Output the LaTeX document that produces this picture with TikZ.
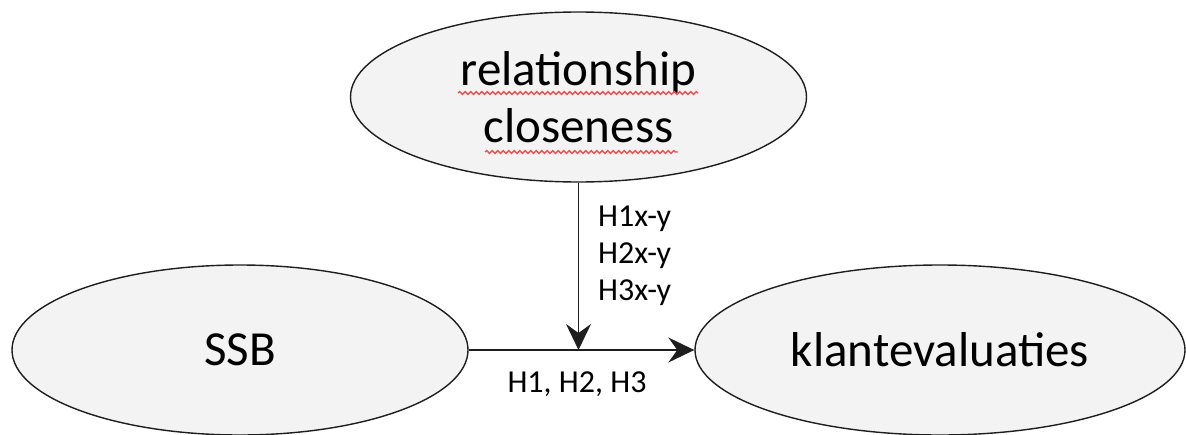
\documentclass[tikz,border=0pt]{standalone}
\usepackage{fontspec}
\setmainfont{Carlito}
\usetikzlibrary{shapes.geometric,arrows.meta,decorations.pathmorphing}
\definecolor{ellfill}{HTML}{F3F3F3}
\definecolor{edge}{HTML}{1E1E1E}
\definecolor{spellred}{HTML}{F05050}
\tikzset{
  construct/.style={ellipse, draw=edge, line width=1.4pt, fill=ellfill, inner sep=0pt,
    minimum height=170pt, font=\fontsize{49}{57}\selectfont, align=center, text=black},
  arr/.style={draw=edge, line width=1.4pt, -{Stealth[length=26pt,width=25pt,inset=9pt]}},
  hyplabel/.style={font=\fontsize{32}{37}\selectfont, align=left, inner sep=0pt, text=black},
  spell/.style={draw=spellred, line width=1.3pt, decorate,
    decoration={snake, amplitude=1.4pt, segment length=5.5pt}}
}
\begin{document}
\begin{tikzpicture}[x=1pt,y=-1pt]
  \useasboundingbox (0,0) rectangle (1186,434);
  \node[construct, minimum width=456pt] (rc) at (578.5,97) {relationship\\closeness};
  \node[construct, minimum width=456pt] (ssb) at (240,350) {SSB};
  \node[construct, minimum width=490pt] (kl) at (940,350) {klantevaluaties};
  \coordinate (m) at (rc.south |- ssb.east);
  \draw[arr] (ssb.east) -- (kl.west);
  \draw[arr] (rc.south) -- (m);
  \node[hyplabel, anchor=north west] (hxy) at (598,206) {H1x-y\\H2x-y\\H3x-y};
  \node[hyplabel, anchor=base] (h123) at (577,392) {H1, H2, H3};
  \draw[spell] (458,93) -- (698,93);
  \draw[spell] (485,152) -- (678,152);
\end{tikzpicture}
\end{document}
